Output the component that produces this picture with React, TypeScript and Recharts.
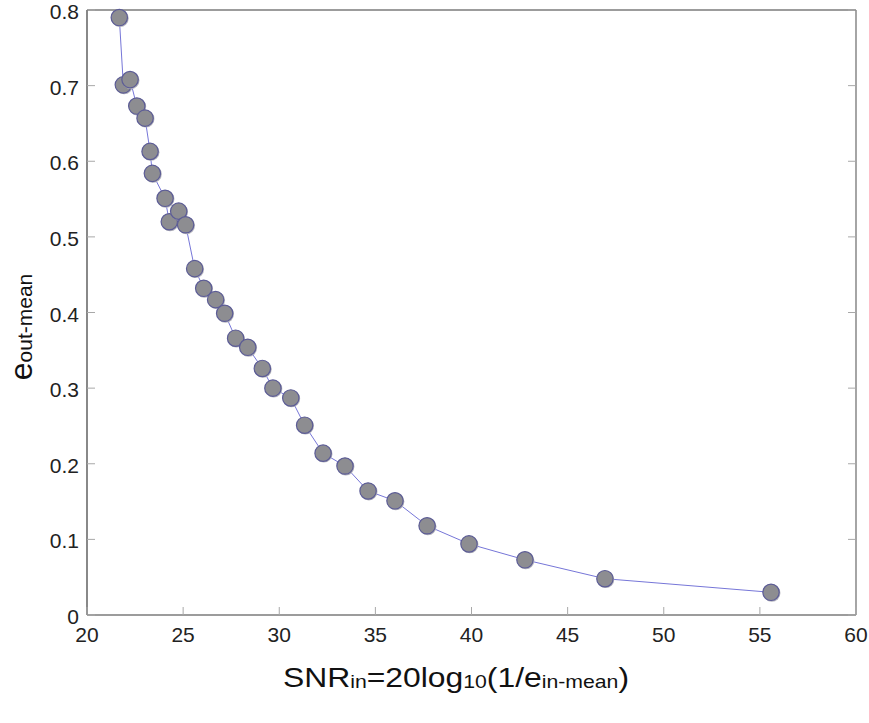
import React from 'react';
import { ScatterChart, Scatter, XAxis, YAxis } from 'recharts';

// input SNR (dB) and mean output error, ordered by SNR
const snrIn = [
  21.68, 21.89, 22.24, 22.59, 23.02, 23.28, 23.4, 24.06, 24.28, 24.77,
  25.13, 25.6, 26.07, 26.69, 27.16, 27.73, 28.36, 29.12, 29.67, 30.6,
  31.32, 32.28, 33.42, 34.62, 36.02, 37.69, 39.87, 42.78, 46.94, 55.58
];
const eOutMean = [
  0.79, 0.701, 0.708, 0.673, 0.657, 0.613, 0.584, 0.551, 0.52, 0.534,
  0.516, 0.458, 0.432, 0.417, 0.399, 0.366, 0.354, 0.326, 0.3, 0.287,
  0.251, 0.214, 0.197, 0.164, 0.151, 0.118, 0.094, 0.073, 0.048, 0.03
];
const xTicks = [20, 25, 30, 35, 40, 45, 50, 55, 60];
const yTicks = [0, 0.1, 0.2, 0.3, 0.4, 0.5, 0.6, 0.7, 0.8];

const points = snrIn.map((x, i) => ({ x, y: eOutMean[i] }));

const FONT = '"Liberation Sans", Arial, Helvetica, sans-serif';
const TICK_LEN = 8;
const TICK_COLOR = '#a8a8a8';
const AXIS_COLOR = '#3a3a3a';

const BottomTick = (props: any) => {
  const { x, y, payload } = props;
  return (
    <g>
      <line x1={x} y1={y} x2={x} y2={y - TICK_LEN} stroke={TICK_COLOR} />
      <text x={x} y={y + 27} textAnchor="middle" fontSize={21} fontFamily={FONT} fill="#222">
        {payload.value}
      </text>
    </g>
  );
};

const LeftTick = (props: any) => {
  const { x, y, payload } = props;
  return (
    <g>
      <line x1={x} y1={y} x2={x + TICK_LEN} y2={y} stroke={TICK_COLOR} />
      <text x={x - 8} y={y + 9} textAnchor="end" fontSize={21} fontFamily={FONT} fill="#222">
        {payload.value}
      </text>
    </g>
  );
};

const TopTick = (props: any) => {
  const { x, y } = props;
  return <line x1={x} y1={y} x2={x} y2={y + TICK_LEN} stroke={TICK_COLOR} />;
};

const RightTick = (props: any) => {
  const { x, y } = props;
  return <line x1={x} y1={y} x2={x - TICK_LEN} y2={y} stroke={TICK_COLOR} />;
};

const Marker = (props: any) => {
  const { cx, cy } = props;
  return (
    <g>
      <circle cx={cx + 0.8} cy={cy + 0.8} r={8.6} fill="#b4b4bc" />
      <circle cx={cx} cy={cy} r={8.2} fill="#8d8d91" stroke="#5c5c96" strokeWidth={1.2} />
    </g>
  );
};

const XTitle = () => (
  <text transform="translate(456,687) scale(1.18,1)" textAnchor="middle" fontFamily={FONT} fill="#111" fontSize={27}>
    <tspan>SNR</tspan>
    <tspan fontSize={18} dy={1}>in</tspan>
    <tspan dy={-1}>=20log</tspan>
    <tspan fontSize={18} dy={1}>10</tspan>
    <tspan dy={-1}>(1/e</tspan>
    <tspan fontSize={18} dy={1}>in-mean</tspan>
    <tspan dy={-1}>)</tspan>
  </text>
);

const YTitle = () => (
  <text transform="translate(32,327) rotate(-90)" textAnchor="middle" fontFamily={FONT} fill="#111" fontSize={32}>
    <tspan>e</tspan>
    <tspan fontSize={21}>out-mean</tspan>
  </text>
);

export default function App() {
  return (
    <div style={{ position: 'absolute', left: 0, top: 0, width: 869, height: 723, background: '#fff' }}>
      <ScatterChart width={869} height={723} margin={{ top: 0, right: 0, bottom: 0, left: 0 }}>
        <XAxis
          xAxisId="b"
          type="number"
          dataKey="x"
          domain={[20, 60]}
          ticks={xTicks}
          height={108}
          tickSize={0}
          tickMargin={0}
          tickLine={false}
          axisLine={{ stroke: AXIS_COLOR, strokeWidth: 1.2 }}
          tick={<BottomTick />}
          interval={0}
          label={{ content: <XTitle /> }}
        />
        <XAxis
          xAxisId="t"
          orientation="top"
          type="number"
          domain={[20, 60]}
          ticks={xTicks}
          height={10}
          tickSize={0}
          tickMargin={0}
          tickLine={false}
          axisLine={{ stroke: AXIS_COLOR, strokeWidth: 1.2 }}
          tick={<TopTick />}
          interval={0}
          allowDataOverflow
        />
        <YAxis
          yAxisId="l"
          type="number"
          dataKey="y"
          domain={[0, 0.8]}
          ticks={yTicks}
          width={87}
          tickSize={0}
          tickMargin={0}
          tickLine={false}
          axisLine={{ stroke: AXIS_COLOR, strokeWidth: 1.2 }}
          tick={<LeftTick />}
          interval={0}
          label={{ content: <YTitle /> }}
        />
        <YAxis
          yAxisId="r"
          orientation="right"
          type="number"
          domain={[0, 0.8]}
          ticks={yTicks}
          width={13}
          tickSize={0}
          tickMargin={0}
          tickLine={false}
          axisLine={{ stroke: '#6a6a6a', strokeWidth: 1.2 }}
          tick={<RightTick />}
          interval={0}
          allowDataOverflow
        />
        <Scatter
          xAxisId="b"
          yAxisId="l"
          data={points}
          line={{ stroke: '#7676d8', strokeWidth: 1 }}
          lineType="joint"
          shape={<Marker />}
          isAnimationActive={false}
        />
      </ScatterChart>
    </div>
  );
}
